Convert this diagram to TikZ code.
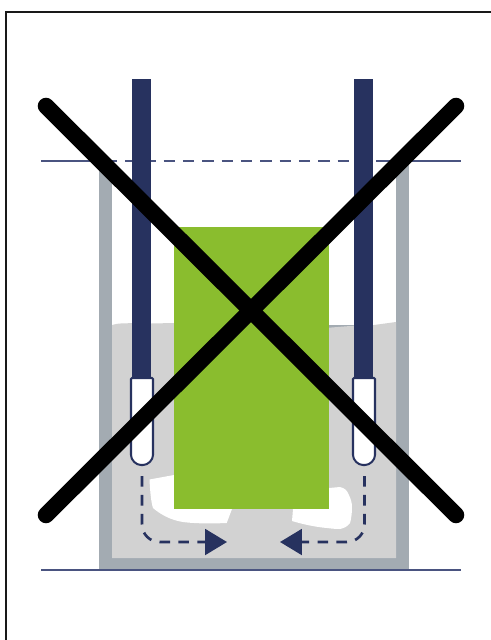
\documentclass[tikz,border=0pt]{standalone}
\usetikzlibrary{arrows.meta}
\definecolor{navy}{HTML}{27325F}
\definecolor{wallgrey}{HTML}{A3ABB2}
\definecolor{liquid}{HTML}{D2D2D2}
\definecolor{sample}{HTML}{8ABD2E}
\definecolor{levelline}{HTML}{4A5480}

\begin{document}
\begin{tikzpicture}[
    x=0.02cm, y=-0.02cm,
    wall/.style={fill=wallgrey},
    rod/.style={fill=navy},
    probe/.style={draw=navy, fill=white, line width=1.15pt, rounded corners=0.6pt},
    level/.style={draw=levelline, line width=0.75pt},
    flow/.style={draw=navy, line width=1.5pt, dash pattern=on 6pt off 4.8pt, rounded corners=10pt, -{Triangle[length=12.5pt, width=14.7pt, fill=navy]}},
    cross/.style={draw=black, line width=9.4pt, line cap=round}
]
    \useasboundingbox (0,0) rectangle (491,640);

    % frame
    \draw[line width=1.7pt, draw=black!90] (6,640) -- (6,12) -- (491,12);

    % tank and liquid
    \fill[wall] (98.5,161) rectangle (409,570);
    \fill[white] (112,161) rectangle (396,325);
    \fill[liquid] (112,325) .. controls (118,323) and (125,323) .. (151,323.5) -- (174,323) -- (329,327.7) -- (354,325.7) -- (374,325) -- (396,322) -- (396,558) -- (112,558) -- cycle;

    % voids under the sample
    \fill[white] (149.5,479.5) -- (174,475) -- (232,505) -- (232,509) -- (226.7,523) .. controls (205,524) and (190,523) .. (183,522) .. controls (170,520) and (160,514) .. (153,508) .. controls (151,502) and (150,490) .. (149.5,479.5) -- cycle;
    \fill[white] (329,488) -- (340,487) .. controls (345,488) and (347,491) .. (348,493) .. controls (351,499) and (352,503) .. (352,507) .. controls (352,514) and (351,520) .. (350,523) .. controls (347,527) and (344,528) .. (340,529) .. controls (335,529) and (331,528.5) .. (327,528) .. controls (315,527) and (302,524) .. (292,521) -- (293,509) -- cycle;

    % sample
    \fill[sample] (174,227) rectangle (329,509);

    % level lines
    \draw[level] (41,161) -- (117,161);
    \draw[level, dash pattern=on 6.5pt off 4.5pt] (125,161) -- (382,161);
    \draw[level] (382,161) -- (461,161);
    \draw[level] (41,570) -- (461,570);

    % rods and probes
    \fill[rod] (132,79) rectangle (151,378);
    \fill[rod] (354,79) rectangle (373,378);
    \draw[probe] (131,378) -- (131,454) .. controls (131,460) and (136,465) .. (142,465) .. controls (148,465) and (153,460) .. (153,454) -- (153,378) -- cycle;
    \draw[probe] (353,378) -- (353,454) .. controls (353,460) and (358,465) .. (364,465) .. controls (370,465) and (375,460) .. (375,454) -- (375,378) -- cycle;

    % flow
    \coordinate (startL) at (142,476);
    \coordinate (headL) at (227,542);
    \coordinate (startR) at (364.5,476);
    \coordinate (headR) at (280,542);
    \draw[flow] (startL) |- (headL);
    \draw[flow] (startR) |- (headR);

    % crossed out
    \coordinate (topL) at (46,106);
    \coordinate (topR) at (456,106);
    \coordinate (botL) at (46,515);
    \coordinate (botR) at (456,515);
    \draw[cross] (topL) -- (botR);
    \draw[cross] (topR) -- (botL);
\end{tikzpicture}
\end{document}
